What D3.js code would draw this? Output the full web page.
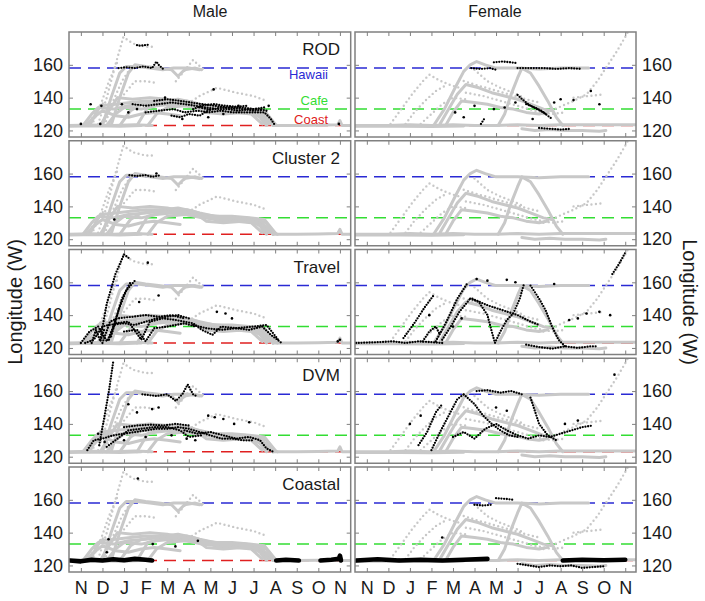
<!DOCTYPE html>
<html><head><meta charset="utf-8">
<script src="https://cdn.jsdelivr.net/npm/d3@7"></script>
<style>
html,body{margin:0;padding:0;background:#fff;}
text{font-family:"Liberation Sans",Arial,Helvetica,sans-serif;}
</style></head>
<body><svg id="c" width="705" height="601"></svg>
<script>
// ---------- data ----------
const months = ["N","D","J","F","M","A","M","J","J","A","S","O","N"];
const yTickValues = [120,140,160];
const refNames = ["Hawaii","Cafe","Coast"];
const refLon = [158,133,123];
const groupNames = ["ROD","Cluster 2","Travel","DVM","Coastal"];
const sexNames = ["Male","Female"];

// month index (0 = Nov) , longitude (W)
const maleGrayTracks = [
  [[-0.55,123],[0.5,123.3],[1.5,123],[2.5,123.5],[3.3,123]],
  [[-0.55,122.5],[0.8,122.8],[1.8,122.5],[2.8,123]],
  [[8.9,123],[10,123],[11,123.2],[11.9,123.5],[12.0,126],[12.1,123],[12.5,123]],
  [[0.1,123],[0.5,130],[0.8,134],[1.5,133],[2.2,135],[3,136],[3.6,137],[4.3,138],[5,137],[5.6,135],[6.3,134],[7,133],[7.6,133],[8.2,132],[8.6,127],[8.9,123]],
  [[0.4,123],[0.9,135],[1.6,136],[2.3,137],[3,138],[3.8,138],[4.5,139],[5.2,137],[5.9,134],[6.6,132],[7.4,132],[8.3,131],[8.8,125],[9.1,123]],
  [[1.2,123],[1.6,130],[2.0,134],[2.8,133],[3.5,135],[4.2,136],[4.9,135],[5.6,133],[6.4,132],[7.2,131],[7.9,130],[8.4,124]],
  [[1.8,123],[2.3,132],[2.8,136],[3.5,137],[4.2,137],[4.9,138],[5.5,136],[6.2,134],[7,134],[7.8,133],[8.5,132],[9,124]],
  [[2.6,123],[3.1,134],[3.7,136],[4.4,137],[5.1,136],[5.8,134],[6.4,131],[7.2,131],[8,132],[8.6,130],[8.9,123]],
  [[0.9,123],[1.3,132],[1.7,140],[2.4,139],[3.2,140],[4,139],[4.7,137],[5.3,136],[5.8,131],[6.6,130],[7.5,131],[8.2,130],[8.7,124]],
  [[3.1,123],[3.5,130],[4.0,134],[4.8,135],[5.5,134],[6.2,133],[7,133],[7.8,132],[8.3,128],[8.6,123]],
  [[0.2,123],[0.6,128],[1.0,132],[1.6,129],[2.2,128],[2.8,130],[3.4,131],[4.0,130],[4.6,129]],
  [[1.0,123],[1.4,140],[1.8,155],[2.1,159],[2.6,159],[3.2,158],[3.8,157],[4.3,158],[5,158],[5.5,157]],
  [[1.4,123],[1.8,140],[2.2,155],[2.5,160],[3.0,159],[3.6,158],[4.2,157],[4.5,153],[4.8,157],[5.3,158],[5.6,157]]
];
const maleGrayDots = [
  [[0.8,124],[1.2,140],[1.6,160],[1.97,177],[2.4,173],[3.0,171],[3.4,171]],
  [[0.5,123],[0.9,135],[1.3,150],[1.7,162]],
  [[4.4,150],[4.9,158],[5.2,163],[5.6,158],[5.8,156]],
  [[4.8,135],[5.5,141],[6.3,146],[7.2,143],[8.0,141],[8.6,138]],
  [[2.0,142],[2.5,150],[3.0,150],[3.5,149]],
  [[0.3,123],[0.7,131],[1.1,138]],
  [[1.1,123],[1.5,138],[1.9,150],[2.3,158]]
];
const femaleGrayTracks = [
  [[-0.55,123],[1,123],[2,123.5],[3,123],[4,123.5],[5,123],[6,123],[7,123.5],[8,123],[9,123.5],[10,123.5],[11,123.5],[12.5,123.5]],
  [[-0.55,122.5],[1.5,122.6],[3,122.4],[4.5,122.7]],
  [[3.1,123],[3.6,133],[4.1,146],[4.5,156],[4.8,160],[5.1,162],[5.5,160],[6.0,158],[7,158],[8,157.5],[9,158],[10.3,158]],
  [[6.1,123],[6.4,130],[6.7,142],[7.0,152],[7.2,158],[7.6,155],[8.0,147],[8.4,138],[8.8,128],[9.1,123]],
  [[3.4,124],[3.8,133],[4.2,142],[4.6,148],[5.2,146],[5.8,143],[6.4,141],[7.0,139],[7.6,136],[8.2,133],[8.6,132]],
  [[3.7,124],[4.0,131],[4.4,138],[5.0,137],[5.6,136],[6.2,134],[6.8,133],[7.4,131],[8.0,130],[8.4,131]],
  [[7.2,121],[7.8,120],[8.5,120.5],[9.2,120],[10,120],[10.8,119.5],[11.1,120]]
];
const femaleGrayDots = [
  [[1.1,124],[1.6,133],[2.1,142],[2.6,150],[2.9,154],[3.3,151],[3.8,148],[4.3,146]],
  [[1.8,124],[2.2,131],[2.7,138],[3.2,144],[3.6,147]],
  [[8.2,130],[8.9,134],[9.6,138],[10.2,142],[10.7,150],[11.2,160],[11.6,168],[12.0,177],[12.2,182]],
  [[9.6,140],[10.3,141],[11.0,142]],
  [[4.3,151],[5.0,148],[5.8,145],[6.6,142],[7.4,139],[8.0,137]],
  [[4.6,143],[5.4,141],[6.2,138],[7,135],[7.8,132],[8.6,130],[9.2,131]],
  [[5.0,157],[5.6,150],[6.2,146],[6.8,143],[7.3,140]],
  [[2.5,124],[3.0,130],[3.5,136],[4.0,140],[4.6,139]]
];

// black (cluster) tracks and points, male
const maleRODTracks = [
  [[1.75,158],[2.1,158.5],[2.5,158],[2.9,159],[3.3,158],[3.5,162],[3.6,160],[3.85,157]],
  [[2.6,172],[2.75,171.6],[3.1,172.2]],
  [[2.4,136],[3.0,135],[3.6,136],[4.2,137],[4.8,136],[5.3,135],[5.8,134],[6.3,133],[6.8,133],[7.3,132],[7.8,133],[8.3,133],[8.6,132]],
  [[3.0,131],[3.6,132],[4.3,133],[4.8,131],[5.4,132],[5.9,131],[6.5,132],[7.0,131],[7.5,131],[8.0,131],[8.5,131],[8.8,127],[9.0,123]],
  [[3.4,138],[4.0,139],[4.6,138],[5.1,137],[5.6,136],[6.2,135],[6.8,134],[7.4,134],[8.0,133],[8.5,134]],
  [[4.2,129],[4.6,128],[5.0,130],[5.5,129],[6.0,133]],
  [[5.5,134],[6.0,132.5],[6.5,134],[7.0,133.5],[7.5,133],[8.0,132],[8.4,132.5]],
  [[5.2,133],[5.7,135.5],[6.2,136],[6.7,135],[7.2,134.5],[7.7,135]]
];
const maleRODPoints = [[0.0,124],[0.9,124],[0.45,136],[0.95,135],[1.9,136],[3.9,140],[6.15,145],[11.95,124],[2.2,131],[2.6,133],[5.9,128],[7.3,135],[4.7,127],[6.6,130],[8.7,135]];
const maleCl2Tracks = [[[2.25,159],[2.6,158.5],[3.0,159],[3.3,158],[3.7,159]]];
const maleCl2Points = [[1.55,132],[3.5,160]];
const maleTravelTracks = [
  [[0.2,123],[0.6,125],[1.0,133],[1.3,134],[2,135],[2.5,134],[3,136],[3.5,138],[4,139],[4.5,140],[5,138]],
  [[0.0,123],[0.4,130],[0.8,133],[1.2,124],[1.6,135],[2.2,136],[2.8,125],[3.2,136],[3.8,138],[4.4,137],[5.2,135],[5.6,131],[6.1,128],[6.5,133],[7.2,132],[8,133],[8.6,134],[9.2,124]],
  [[1.0,123],[1.35,136],[1.7,138],[2.4,139],[3,140],[3.6,139],[4.2,140],[4.8,138]],
  [[0.9,125],[1.2,147],[1.6,165],[2.0,177],[2.3,174]],
  [[1.3,125],[1.8,145],[2.1,155],[2.5,161]],
  [[1.4,127],[1.9,150],[2.3,160]],
  [[5.2,134],[5.8,132],[6.5,131],[7.2,132],[7.8,131],[8.4,133],[8.8,128],[9.3,123]],
  [[2,130],[2.6,131],[3,124],[3.4,132],[4,133],[4.8,135],[5.3,133]],
  [[0.5,123],[0.7,131],[0.9,124],[1.1,132]]
];
const maleTravelPoints = [[3.1,172],[6.3,142],[6.7,141],[7.0,138],[11.9,124],[12,125],[3.6,152],[2.7,148]];
const maleDVMTracks = [
  [[0.85,127],[1.1,145],[1.3,160],[1.5,178]],
  [[2.85,158],[3.5,157],[4.0,158],[4.4,154],[4.7,158],[4.95,164],[5.2,158],[5.35,157]],
  [[0.3,124],[0.6,130],[1,131],[1.5,133],[2,134],[2.5,135],[3,136],[3.5,137],[4,137],[4.5,138],[5,137],[5.5,135],[6,133],[6.5,131],[7,131],[7.5,130],[8,130]],
  [[1.2,126],[1.6,130],[2.2,136],[2.8,137],[3.4,138],[4,138],[4.6,136],[5,132],[5.6,133]],
  [[4.8,136],[5.4,134],[6,135],[6.6,133],[7.2,131],[7.8,132],[8.3,130],[8.6,125],[8.9,123]],
  [[2.0,138],[2.6,139],[3.2,139.5],[3.8,139],[4.4,140],[5.0,139]]
];
const maleDVMPoints = [[2.2,152],[2.6,147],[3.3,149],[3.6,150],[5.9,145],[6.2,144],[6.6,143],[7.1,140],[7.8,141],[0.8,134],[1.1,129],[2,130],[3,132],[4.2,133],[4.9,131],[5.3,130]];
const maleCoastalBand = [
  [[-0.5,123],[0,122.5],[0.5,123.5],[1,123],[1.5,123.8],[2,123.2],[2.5,124],[3,123.5],[3.3,123]],
  [[9.05,123],[9.5,123.5],[10.1,123]],
  [[11.1,123],[11.6,123.5],[11.95,124],[12.0,126],[12.05,123]]
];
const maleCoastalPoints = [[1.28,136],[1.2,128],[3.33,133],[4.38,131.6],[5.42,135],[2.64,173]];

// black (cluster) tracks and points, female
const femaleRODTracks = [
  [[4.85,158],[5.3,157.5],[5.7,158],[6.0,157]],
  [[5.9,161.5],[6.3,162],[6.7,161.5],[7.0,161]],
  [[7.0,158],[7.6,158],[8.2,158],[8.8,157.5],[9.4,158],[10.0,157.5]],
  [[7.0,141.6],[7.3,138],[7.6,135],[7.9,133],[8.2,131],[8.4,129],[8.6,127]],
  [[7.4,136],[7.8,134],[8.1,132],[8.3,130]],
  [[8.0,121.5],[8.5,121],[9.0,120.5],[9.5,121]],
  [[5.3,124],[5.4,126],[5.5,128]]
];
const femaleRODPoints = [[4.1,131],[4.5,128],[5.0,135],[5.9,133],[6.4,134],[6.9,137],[9.0,139],[9.6,138.5],[10.4,144],[10.8,136],[7.7,127],[8.7,137]];
const femaleCl2Tracks = [];
const femaleCl2Points = [];
const femaleTravelTracks = [
  [[-0.5,123],[0.5,123.5],[1.2,124],[1.8,123],[2.4,124],[3.0,123.5],[3.5,123]],
  [[3.2,124],[3.7,136],[4.2,150],[4.65,159]],
  [[3.5,125],[3.9,133],[4.3,142],[4.8,150]],
  [[1.7,126],[2.2,135],[2.7,145],[3.1,152]],
  [[2.6,124],[2.9,130],[3.2,133],[3.4,128]],
  [[4.8,150],[5.2,148],[5.6,140],[5.8,130],[5.95,123],[6.2,130],[6.5,137],[6.8,141],[7.1,150],[7.3,159]],
  [[7.6,158],[8.0,150],[8.3,143],[8.6,133],[8.9,125],[9.2,121]],
  [[7.4,122],[8,120.5],[8.6,119.5],[9.2,121],[9.8,120],[10.4,121],[10.7,121]],
  [[4.9,150],[5.6,146],[6.3,143],[7.0,140],[7.6,136],[8.0,134]],
  [[11.4,165],[11.7,171],[12.0,178]]
];
const femaleTravelPoints = [[5.1,162],[5.6,161],[6.5,161.5],[6.9,160],[8.7,159],[10.2,141],[10.8,142],[11.3,140],[9.4,137],[9.8,138],[4.4,138],[4.0,133],[2.9,140]];
const femaleDVMTracks = [
  [[3.0,124],[3.4,135],[3.8,145],[4.2,155],[4.5,158]],
  [[4.5,158],[5.0,152],[5.4,145],[5.8,140],[6.2,136],[6.6,133],[7.0,132]],
  [[5.1,160],[5.6,160.5],[6.2,159],[6.7,160],[7.2,158]],
  [[4,132],[4.5,135],[5,131],[5.5,137],[6,140],[6.5,136],[7,133],[7.5,131],[8,133],[8.5,132],[9,134],[9.5,136],[10,138],[10.5,139]],
  [[2.4,127],[2.8,135],[3.2,147],[3.5,152]],
  [[7.6,156],[7.8,148],[8.0,140],[8.4,133],[8.8,130]]
];
const femaleDVMPoints = [[2.0,140],[2.5,145],[6.0,150],[6.5,148],[9.2,140],[9.8,142],[11.5,170]];
const femaleCoastalBand = [
  [[-0.5,123],[0.5,123.8],[1.5,123],[2.5,123.5],[3.5,123],[4.5,123.5],[5.6,124]],
  [[9.1,123],[10,123.5],[11,123.2],[12,123.5]]
];
const femaleCoastalTracks = [
  [[7.0,121],[7.5,120],[8.0,119],[8.5,120],[9.0,119.5],[9.5,120],[10,118.5],[10.5,119],[11,119.5]],
  [[5.0,157],[5.4,156.5],[5.8,157]],
  [[6.0,161],[6.5,160.5],[6.8,160]]
];
const femaleCoastalPoints = [[3.5,137],[1.5,123.5]];

// ---------- layout ----------
const svg = d3.select("#c");
const colX = [[69,350.7],[355,636]];
const rowTop = [32,140.75,249.5,358.25,467];
const rowH = 105;
const refColor = ["#2a2ad4","#33dd33","#e02020"];
const gray = "#c8c8c8";
const frameColor = "#808080";

const panelData = [
  [ {t:maleRODTracks,p:maleRODPoints,b:[]}, {t:maleCl2Tracks,p:maleCl2Points,b:[]}, {t:maleTravelTracks,p:maleTravelPoints,b:[]}, {t:maleDVMTracks,p:maleDVMPoints,b:[]}, {t:[],p:maleCoastalPoints,b:maleCoastalBand} ],
  [ {t:femaleRODTracks,p:femaleRODPoints,b:[]}, {t:femaleCl2Tracks,p:femaleCl2Points,b:[]}, {t:femaleTravelTracks,p:femaleTravelPoints,b:[]}, {t:femaleDVMTracks,p:femaleDVMPoints,b:[]}, {t:femaleCoastalTracks,p:femaleCoastalPoints,b:femaleCoastalBand} ]
];
const grayData = [[maleGrayTracks,maleGrayDots],[femaleGrayTracks,femaleGrayDots]];

const defs = svg.append("defs");

for (let c=0;c<2;c++){
  const x = d3.scaleLinear().domain([-0.55,12.5]).range(colX[c]);
  for (let r=0;r<5;r++){
    const top = rowTop[r];
    const y = d3.scaleLinear().domain([116,180]).range([top+rowH, top]);
    const id = "clip"+c+"_"+r;
    defs.append("clipPath").attr("id",id).append("rect")
      .attr("x",colX[c][0]).attr("y",top).attr("width",colX[c][1]-colX[c][0]).attr("height",rowH);
    const g = svg.append("g");
    const gc = g.append("g").attr("clip-path","url(#"+id+")");
    const line = d3.line().x(d=>x(d[0])).y(d=>y(d[1]));

    gc.selectAll("line.ref").data(refLon).join("line")
      .attr("x1",colX[c][0]).attr("x2",colX[c][1])
      .attr("y1",d=>y(d)).attr("y2",d=>y(d))
      .attr("stroke",(d,i)=>refColor[i]).attr("stroke-width",1.5)
      .attr("stroke-dasharray","12,7");

    gc.selectAll("path.gt").data(grayData[c][0]).join("path")
      .attr("d",line).attr("fill","none").attr("stroke",gray)
      .attr("stroke-width",3).attr("stroke-linejoin","round").attr("stroke-linecap","round");
    gc.selectAll("path.gd").data(grayData[c][1]).join("path")
      .attr("d",line).attr("fill","none").attr("stroke",gray)
      .attr("stroke-width",2.4).attr("stroke-linecap","round").attr("stroke-dasharray","0 4.5");

    const pd = panelData[c][r];
    gc.selectAll("path.bb").data(pd.b).join("path")
      .attr("d",line).attr("fill","none").attr("stroke","#000")
      .attr("stroke-width",4.6).attr("stroke-linejoin","round").attr("stroke-linecap","round");
    gc.selectAll("path.bt").data(pd.t).join("path")
      .attr("d",line).attr("fill","none").attr("stroke","#000")
      .attr("stroke-width",2.3).attr("stroke-linecap","round").attr("stroke-dasharray","0 2.7");
    gc.selectAll("circle.bp").data(pd.p).join("circle")
      .attr("cx",d=>x(d[0])).attr("cy",d=>y(d[1])).attr("r",1.3).attr("fill","#000");

    const xb = d3.axisBottom(x).tickValues(d3.range(13)).tickSize(-4)
      .tickFormat((d,i)=> r===4 ? months[i] : "").tickPadding(9);
    const xt = d3.axisTop(x).tickValues(d3.range(13)).tickSize(-4).tickFormat("");
    const yl = d3.axisLeft(y).tickValues(yTickValues).tickSize(-4).tickPadding(6)
      .tickFormat(d=> c===0 ? d : "");
    const yr = d3.axisRight(y).tickValues(yTickValues).tickSize(-4).tickPadding(6)
      .tickFormat(d=> c===1 ? d : "");
    const axes = [
      g.append("g").attr("transform","translate(0,"+(top+rowH)+")").call(xb),
      g.append("g").attr("transform","translate(0,"+top+")").call(xt),
      g.append("g").attr("transform","translate("+colX[c][0]+",0)").call(yl),
      g.append("g").attr("transform","translate("+colX[c][1]+",0)").call(yr)
    ];
    axes.forEach(a=>{
      a.select(".domain").remove();
      a.selectAll(".tick line").attr("stroke",frameColor).attr("stroke-width",1);
      a.selectAll(".tick text").attr("fill","#1a1a1a").style("font-size","18px")
        .style("font-family","'Liberation Sans',Arial,sans-serif");
    });

    g.append("rect").attr("x",colX[c][0]).attr("y",top)
      .attr("width",colX[c][1]-colX[c][0]).attr("height",rowH)
      .attr("fill","none").attr("stroke",frameColor).attr("stroke-width",1.5);

    if (c===0){
      g.append("text").attr("x",340).attr("y",top+23).attr("text-anchor","end")
        .style("font-size","17px").attr("fill","#1a1a1a").text(groupNames[r]);
    }
    if (c===0 && r===0){
      const dy = [11,-4,-2];
      g.selectAll("text.ref").data(refNames).join("text")
        .attr("x",328).attr("y",(d,i)=>y(refLon[i])+dy[i])
        .attr("text-anchor","end").style("font-size","13px")
        .attr("fill",(d,i)=>refColor[i]).text(d=>d);
    }
  }
}

svg.selectAll("text.col").data(sexNames).join("text")
  .attr("x",(d,i)=>(i===0?210:495)).attr("y",17).attr("text-anchor","middle")
  .style("font-size","16px").attr("fill","#1a1a1a").text(d=>d);

svg.append("text").attr("transform","translate(22,302) rotate(-90)")
  .attr("text-anchor","middle").style("font-size","20px").attr("fill","#1a1a1a").text("Longitude (W)");
svg.append("text").attr("transform","translate(683,302) rotate(90)")
  .attr("text-anchor","middle").style("font-size","20px").attr("fill","#1a1a1a").text("Longitude (W)");
</script></body></html>
